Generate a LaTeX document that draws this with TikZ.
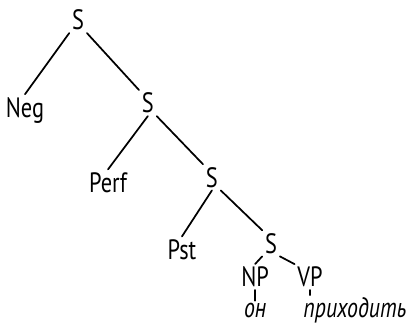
\documentclass[tikz,border=0pt]{standalone}
\usepackage{fontspec}
\setmainfont{PT Sans}[UprightFeatures={FakeStretch=0.8}, ItalicFeatures={FakeStretch=0.78}]
\usepackage{tikz}
\tikzset{
    treeNode/.style={anchor=base, inner sep=2pt, font=\fontsize{21}{24}\selectfont},
    leafWord/.style={treeNode, font=\fontsize{21}{24}\selectfont\itshape},
    branch/.style={line width=1.3pt, line cap=round}
}

\begin{document}
\begin{tikzpicture}
    \useasboundingbox (0,0) rectangle (11,8.547);
    \node[treeNode] (S1)   at (2.06,7.76) {S};
    \node[treeNode] (Neg)  at (0.66,5.46) {Neg};
    \node[treeNode] (S2)   at (3.90,5.57) {S};
    \node[treeNode] (Perf) at (2.85,3.48) {Perf};
    \node[treeNode] (S3)   at (5.59,3.61) {S};
    \node[treeNode] (Pst)  at (4.80,1.71) {Pst};
    \node[treeNode] (S4)   at (7.15,1.87) {S};
    \node[treeNode] (NP)   at (6.73,0.98) {NP};
    \node[treeNode] (VP)   at (8.18,0.98) {VP};
    \node[leafWord] (On)   at (6.73,0.16) {он};
    \node[leafWord, anchor=base west] (Prikh) at (7.93,0.16) {приходить};
    \draw[branch] (S1.south west) -- (Neg.north);
    \draw[branch] (S1.south east) -- (S2.north west);
    \draw[branch] (S2.south) -- (Perf.north);
    \draw[branch] (S2.south east) -- (S3.north west);
    \draw[branch] (S3.south) -- (Pst.north);
    \draw[branch] (S3.south east) -- (S4.north west);
    \draw[branch] (S4.south west) -- (NP.north);
    \draw[branch] (S4.south east) -- (VP.north west);
    \draw[branch] (NP.south) -- (On.north);
    \draw[branch] (VP.south) -- (VP.south |- Prikh.north);
\end{tikzpicture}
\end{document}
